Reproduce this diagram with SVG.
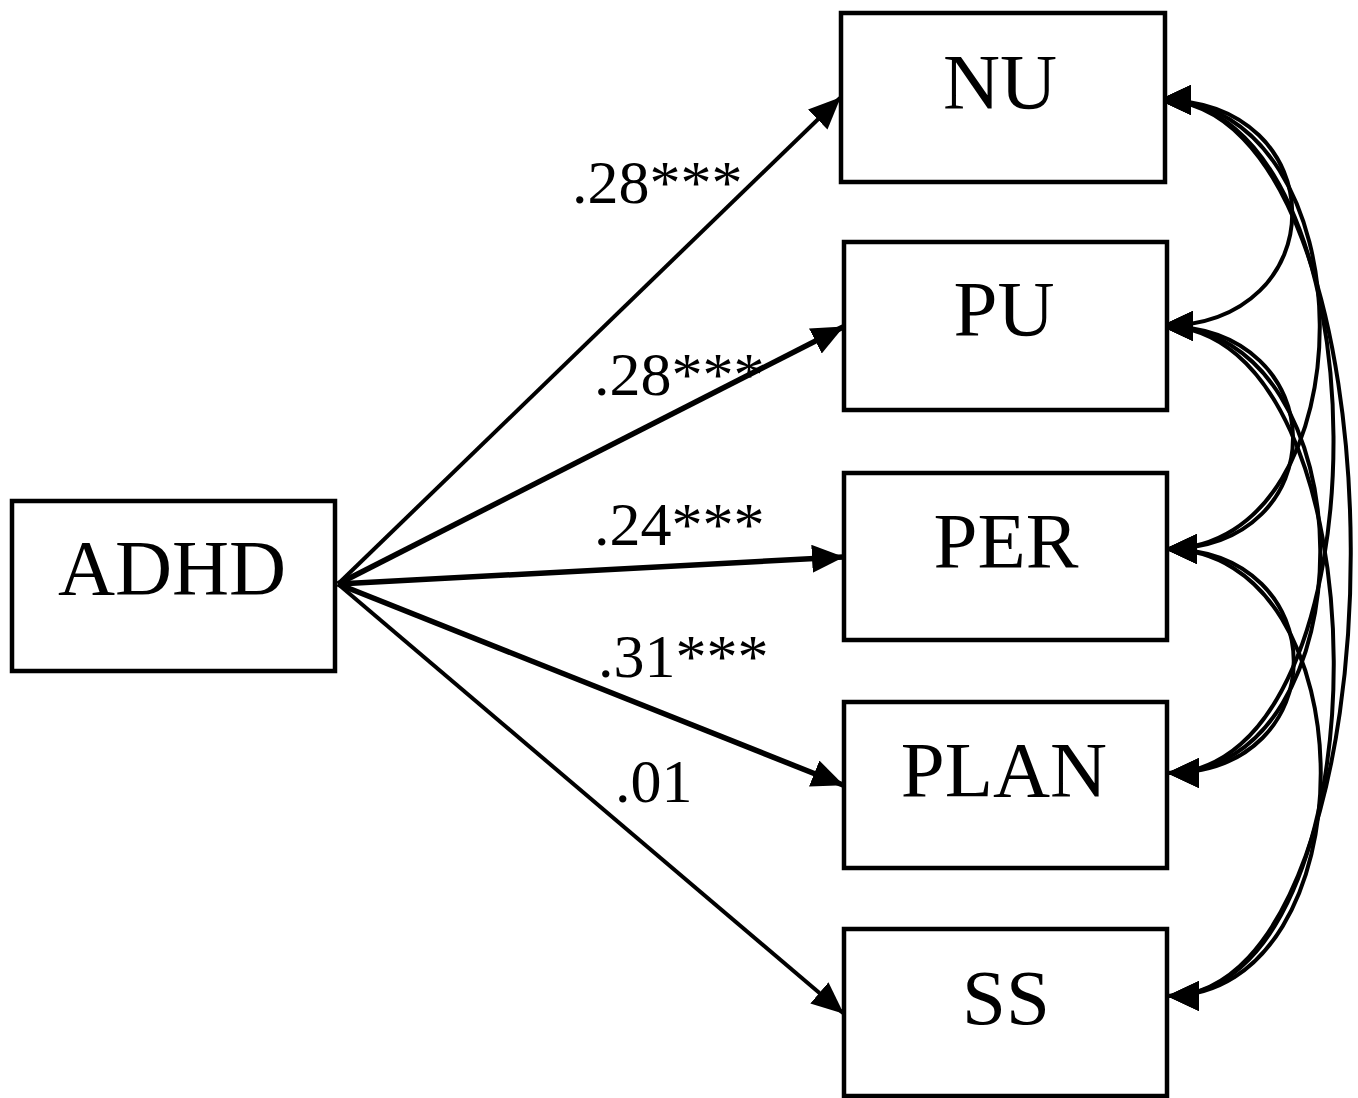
<svg xmlns="http://www.w3.org/2000/svg" width="1358" height="1098" viewBox="0 0 1358 1098">
<style>
.box{fill:#fff;stroke:#000;stroke-width:4.5}
.nt{font-family:"Liberation Serif","Times New Roman",serif;font-size:79px;fill:#000;text-anchor:middle}
.lt{font-family:"Liberation Serif","Times New Roman",serif;font-size:62px;fill:#000}
.path{fill:none;stroke:#000;marker-end:url(#ah)}
.cov{fill:none;stroke:#000;stroke-width:4;marker-start:url(#ch);marker-end:url(#ch)}
</style>
<defs>
<marker id="ah" markerUnits="userSpaceOnUse" markerWidth="32" markerHeight="28" viewBox="0 0 32 28" refX="31" refY="14" orient="auto">
<path d="M0,0 L32,14 L0,28 z" fill="#000"/>
</marker>
<marker id="ch" markerUnits="userSpaceOnUse" markerWidth="32" markerHeight="30" viewBox="0 0 32 30" refX="31" refY="15" orient="auto-start-reverse">
<path d="M0,0 L32,15 L0,30 z" fill="#000"/>
</marker>
</defs>
<rect width="1358" height="1098" fill="#fff"/>
<g id="connectors">
<line class="path" x1="338" y1="584" x2="840" y2="98" stroke-width="4"/>
<line class="path" x1="338" y1="584" x2="843" y2="327" stroke-width="5.5"/>
<line class="path" x1="338" y1="584" x2="843" y2="557" stroke-width="5.5"/>
<line class="path" x1="338" y1="584" x2="843" y2="785" stroke-width="5.5"/>
<line class="path" x1="338" y1="584" x2="843" y2="1013" stroke-width="4"/>
<path class="cov" d="M1160,100 C1336,100 1336,326 1162,326"/>
<path class="cov" d="M1162,326 C1336,326 1336,549 1166,549"/>
<path class="cov" d="M1166,549 C1336,549 1336,773 1168,773"/>
<path class="cov" d="M1160,100 C1372,100 1372,549 1166,549"/>
<path class="cov" d="M1162,326 C1372,326 1372,773 1168,773"/>
<path class="cov" d="M1166,549 C1372,549 1372,996 1168,996"/>
<path class="cov" d="M1160,100 C1390,100 1390,773 1168,773"/>
<path class="cov" d="M1162,326 C1390,326 1390,996 1168,996"/>
<path class="cov" d="M1160,100 C1413,100 1413,996 1168,996"/>
<text class="lt" x="572" y="203">.28***</text>
<text class="lt" x="594" y="395">.28***</text>
<text class="lt" x="594" y="545">.24***</text>
<text class="lt" x="598" y="677">.31***</text>
<text class="lt" x="615" y="802">.01</text>
</g>
<g id="ADHD"><rect class="box" x="12" y="501" width="323" height="170"/><text class="nt" x="172" y="594">ADHD</text></g>
<g id="NU"><rect class="box" x="841" y="13" width="324" height="169"/><text class="nt" x="1000" y="108">NU</text></g>
<g id="PU"><rect class="box" x="844" y="242" width="323" height="168"/><text class="nt" x="1004" y="335">PU</text></g>
<g id="PER"><rect class="box" x="844" y="473" width="323" height="167"/><text class="nt" x="1006" y="567">PER</text></g>
<g id="PLAN"><rect class="box" x="844" y="702" width="323" height="166"/><text class="nt" x="1004" y="796">PLAN</text></g>
<g id="SS"><rect class="box" x="844" y="929" width="323" height="167"/><text class="nt" x="1006" y="1024">SS</text></g>
</svg>
